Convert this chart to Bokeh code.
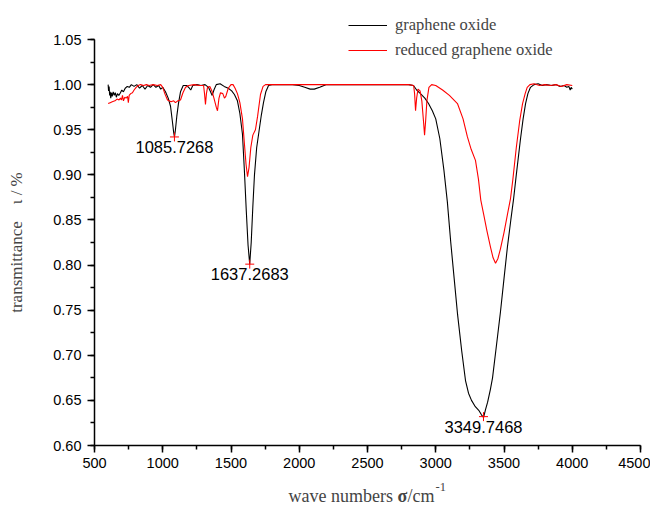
from bokeh.plotting import figure
from bokeh.models import (Range1d, SingleIntervalTicker, Legend, LegendItem, Label,
                          PrintfTickFormatter, ColumnDataSource)
from bokeh.core.properties import value
from bokeh.embed import file_html
from bokeh.resources import INLINE

# ---------------- data ----------------
go_wn = [600, 603, 607, 611, 615, 619, 624, 630, 637, 645, 652, 660, 668, 678, 690, 700, 712, 725,
         740, 755, 770, 790, 810, 830, 850, 870, 890, 910, 930, 950, 970, 985, 1000, 1020, 1040,
         1057, 1070, 1080, 1086, 1093, 1103, 1115, 1130, 1150, 1175, 1195, 1205, 1220, 1250, 1280,
         1310, 1335, 1350, 1362, 1375, 1392, 1420, 1450, 1480, 1505, 1525, 1547, 1565, 1584, 1598,
         1612, 1625, 1637, 1648, 1660, 1672, 1688, 1705, 1722, 1738, 1755, 1775, 1800, 1850, 1900,
         1950, 2000, 2040, 2080, 2110, 2150, 2200, 2300, 2400, 2500, 2600, 2700, 2800, 2837, 2860,
         2888, 2920, 2947, 2975, 3000, 3030, 3060, 3085, 3110, 3135, 3160, 3190, 3218, 3240, 3262,
         3290, 3315, 3335, 3350, 3365, 3380, 3400, 3416, 3440, 3474, 3500, 3525, 3550, 3570, 3590,
         3621, 3640, 3658, 3675, 3694, 3720, 3750, 3780, 3810, 3850, 3880, 3910, 3940, 3960, 3975,
         3985, 3992, 4000]
go_t = [1.000, 0.993, 0.998, 0.988, 0.992, 0.985, 0.991, 0.987, 0.992, 0.988, 0.991, 0.986, 0.990,
        0.988, 0.991, 0.994, 0.992, 0.996, 0.998, 0.997, 1.000, 0.998, 1.000, 0.996, 0.999, 0.995,
        0.999, 0.997, 1.000, 0.997, 0.999, 0.995, 0.997, 0.992, 0.985, 0.976, 0.960, 0.947, 0.942,
        0.950, 0.965, 0.979, 0.992, 0.999, 0.999, 0.996, 0.994, 0.999, 1.000, 0.999, 1.000, 0.997,
        0.992, 0.988, 0.994, 1.000, 1.001, 0.998, 0.996, 0.993, 0.989, 0.982, 0.968, 0.945, 0.905,
        0.860, 0.822, 0.801, 0.825, 0.865, 0.900, 0.930, 0.948, 0.966, 0.980, 0.992, 0.999, 1.000,
        1.000, 1.000, 1.000, 0.999, 0.997, 0.995, 0.995, 0.997, 1.000, 1.000, 1.000, 1.000, 1.000,
        1.000, 1.000, 0.999, 0.994, 0.990, 0.985, 0.979, 0.971, 0.962, 0.940, 0.905, 0.870, 0.825,
        0.785, 0.745, 0.705, 0.672, 0.658, 0.650, 0.643, 0.639, 0.634, 0.631, 0.640, 0.648, 0.662,
        0.675, 0.705, 0.748, 0.785, 0.820, 0.850, 0.873, 0.900, 0.940, 0.962, 0.979, 0.990, 0.997,
        1.000, 1.001, 0.999, 1.000, 0.999, 1.000, 0.998, 0.999, 0.997, 0.998, 0.994, 0.997, 0.995]

rgo_wn = [600, 615, 630, 650, 665, 680, 690, 698, 705, 712, 722, 732, 742, 748, 754, 765, 778, 790,
          805, 820, 837, 860, 880, 900, 930, 960, 985, 1000, 1015, 1035, 1060, 1080, 1093, 1110,
          1130, 1148, 1167, 1190, 1230, 1270, 1299, 1306, 1313, 1320, 1328, 1345, 1360, 1375, 1392,
          1401, 1412, 1423, 1440, 1452, 1462, 1480, 1500, 1515, 1530, 1547, 1565, 1584, 1598, 1610,
          1621, 1632, 1645, 1660, 1679, 1695, 1716, 1735, 1753, 1800, 1900, 2000, 2100, 2200, 2300,
          2400, 2500, 2600, 2700, 2800, 2838, 2845, 2852, 2860, 2870, 2885, 2898, 2910, 2918, 2926,
          2935, 2950, 2970, 3000, 3050, 3100, 3159, 3200, 3232, 3260, 3291, 3313, 3330, 3350, 3375,
          3401, 3420, 3438, 3455, 3474, 3500, 3525, 3548, 3565, 3590, 3615, 3636, 3655, 3670, 3690,
          3720, 3760, 3800, 3840, 3880, 3920, 3960, 4000]
rgo_t = [0.979, 0.980, 0.981, 0.982, 0.984, 0.983, 0.985, 0.983, 0.988, 0.982, 0.986, 0.985, 0.987,
         0.980, 0.988, 0.990, 0.991, 0.994, 0.997, 0.999, 1.000, 0.999, 1.000, 0.999, 1.000, 0.999,
         1.000, 0.997, 0.990, 0.983, 0.981, 0.982, 0.980, 0.982, 0.983, 0.991, 0.997, 0.999, 1.000,
         0.999, 0.999, 0.990, 0.978, 0.990, 0.997, 0.998, 0.993, 0.985, 0.975, 0.971, 0.985, 0.991,
         0.990, 0.985, 0.987, 0.996, 1.000, 1.000, 0.996, 0.990, 0.980, 0.962, 0.935, 0.912, 0.898,
         0.908, 0.930, 0.944, 0.950, 0.965, 0.989, 0.998, 1.000, 1.000, 1.000, 1.000, 1.000, 1.000,
         1.000, 1.000, 1.000, 1.000, 1.000, 1.000, 0.999, 0.990, 0.971, 0.985, 0.995, 0.993, 0.982,
         0.960, 0.944, 0.960, 0.982, 0.997, 1.000, 0.999, 0.994, 0.988, 0.979, 0.962, 0.942, 0.928,
         0.916, 0.895, 0.872, 0.857, 0.838, 0.820, 0.808, 0.802, 0.807, 0.818, 0.836, 0.856, 0.874,
         0.895, 0.930, 0.960, 0.979, 0.990, 0.997, 1.000, 1.001, 0.999, 1.000, 0.999, 1.000, 0.998,
         1.000, 0.999]

peak_wn = [1085.7268, 1637.2683, 3349.7468]
peak_t = [0.942, 0.801, 0.632]
peak_labels = ["1085.7268", "1637.2683", "3349.7468"]

series_names = ["graphene oxide", "reduced graphene oxide"]

X_MIN, X_MAX = 500, 4500
Y_MIN, Y_MAX = 0.60, 1.05

SANS = "Liberation Sans"
SERIF = "Liberation Serif"

# layout: the frame spans the whole canvas; both axes sit at fixed data positions
W, H = 650, 505
AX_LEFT, AX_RIGHT = 94, 640          # pixel columns of 500 and 4500
AX_TOP, AX_BOTTOM = 39, 445          # pixel rows of 1.05 and 0.60
ypp = (Y_MAX - Y_MIN) / (AX_BOTTOM - AX_TOP)
xpp = (X_MAX - X_MIN) / (AX_RIGHT - AX_LEFT)
y_lo = Y_MIN - ypp * (H - AX_BOTTOM)
y_hi = Y_MAX + ypp * AX_TOP
x_lo = X_MIN - xpp * AX_LEFT
x_hi = X_MAX + xpp * (W - AX_RIGHT)

p = figure(width=W, height=H, x_range=Range1d(x_lo, x_hi), y_range=Range1d(y_lo, y_hi),
           output_backend="svg", toolbar_location=None,
           min_border_left=0, min_border_right=0, min_border_top=0, min_border_bottom=0)
p.outline_line_color = None
p.xgrid.visible = False
p.ygrid.visible = False
p.background_fill_color = "white"
p.border_fill_color = "white"

for ax in (p.xaxis[0], p.yaxis[0]):
    ax.axis_line_width = 1.5
    ax.axis_line_color = "black"
    ax.major_tick_line_width = 1.5
    ax.minor_tick_line_width = 1.5
    ax.major_tick_out = 7
    ax.major_tick_in = 0
    ax.minor_tick_out = 4
    ax.minor_tick_in = 0
    ax.major_label_text_font = SANS
    ax.major_label_text_font_size = "14.5px"
    ax.major_label_text_color = "black"
    ax.major_label_standoff = 5

p.xaxis[0].ticker = SingleIntervalTicker(interval=500, num_minor_ticks=2)
p.xaxis[0].bounds = (X_MIN, X_MAX)
p.xaxis[0].fixed_location = Y_MIN
p.yaxis[0].ticker = SingleIntervalTicker(interval=0.05, num_minor_ticks=2)
p.yaxis[0].bounds = (Y_MIN, Y_MAX)
p.yaxis[0].fixed_location = X_MIN
p.yaxis[0].formatter = PrintfTickFormatter(format="%.2f")
p.yaxis[0].major_label_standoff = 6

p.yaxis[0].axis_label = "transmittance\u00a0\u00a0\u00a0\u00a0ι / %"
p.yaxis[0].axis_label_text_font = SERIF
p.yaxis[0].axis_label_text_font_style = "normal"
p.yaxis[0].axis_label_text_font_size = "17px"
p.yaxis[0].axis_label_standoff = 24

src_go = ColumnDataSource(dict(x=go_wn, y=go_t))
src_rgo = ColumnDataSource(dict(x=rgo_wn, y=rgo_t))
r_go = p.line("x", "y", source=src_go, line_color="black", line_width=1.1)
r_rgo = p.line("x", "y", source=src_rgo, line_color="red", line_width=1.1)

src_pk = ColumnDataSource(dict(x=peak_wn, y=peak_t, t=peak_labels))
p.scatter("x", "y", source=src_pk, marker="cross", size=9, line_color="red", line_width=1)
p.text("x", "y", text="t", source=src_pk, text_align="center", text_baseline="top",
       y_offset=4, text_font_size="16.5px", text_color="black", text_font=value(SANS))

legend = Legend(items=[LegendItem(label=series_names[0], renderers=[r_go]),
                       LegendItem(label=series_names[1], renderers=[r_rgo])],
                location=(348, 445), orientation="vertical",
                border_line_color=None, background_fill_alpha=0,
                padding=0, margin=0, spacing=5,
                glyph_width=39, glyph_height=20, label_height=20, label_standoff=8,
                label_text_font=SERIF, label_text_font_size="16.5px")
p.add_layout(legend, "center")

# x-axis title pieces (frame-relative screen units; frame = canvas)
xl_y = 10
p.add_layout(Label(x=288, y=xl_y, x_units="screen", y_units="screen", text="wave numbers",
                   text_font=SERIF, text_font_size="18px", text_baseline="alphabetic"))
p.add_layout(Label(x=397, y=xl_y, x_units="screen", y_units="screen", text="σ",
                   text_font=SERIF, text_font_size="18px", text_font_style="bold",
                   text_baseline="alphabetic"))
p.add_layout(Label(x=407, y=xl_y, x_units="screen", y_units="screen", text="/cm",
                   text_font=SERIF, text_font_size="18px", text_baseline="alphabetic"))
p.add_layout(Label(x=435, y=xl_y + 9, x_units="screen", y_units="screen", text="-1",
                   text_font=SERIF, text_font_size="12.5px", text_baseline="alphabetic"))

open("out.html", "w").write(file_html(p, INLINE))
